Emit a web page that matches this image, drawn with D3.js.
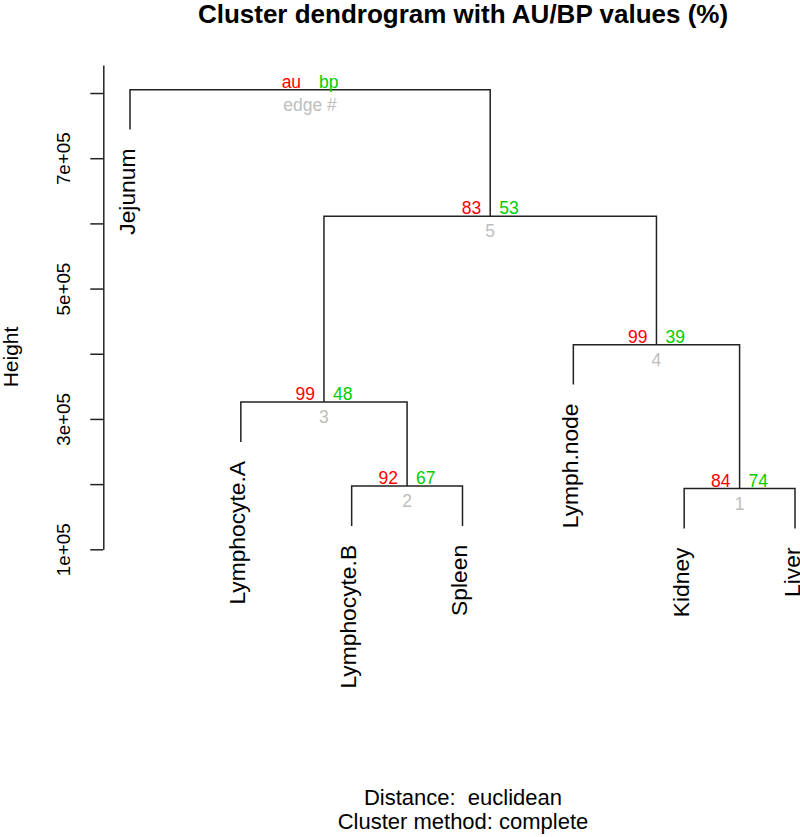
<!DOCTYPE html>
<html>
<head>
<meta charset="utf-8">
<script src="https://cdn.jsdelivr.net/npm/d3@7"></script>
<style>
  body { margin: 0; background: #fff; }
  svg text { font-family: "Liberation Sans", Arial, Helvetica, sans-serif; }
</style>
</head>
<body>
<div id="chart"></div>
<script>
// leaves in plotting order
var leafLabels = ["Jejunum", "Lymphocyte.A", "Lymphocyte.B", "Spleen", "Lymph.node", "Kidney", "Liver"];
// hclust style merges: negative = leaf (1-based), positive = earlier merge
var merges = [[-6, -7], [-3, -4], [-2, 2], [-5, 1], [3, 4], [-1, 5]];
var heights = [193100, 197100, 325900, 414000, 610800, 805200];
var auValues = [84, 92, 99, 99, 83];
var bpValues = [74, 67, 48, 39, 53];
var tickValues = [100000, 200000, 300000, 400000, 500000, 600000, 700000, 800000];
var labelledTicks = [100000, 300000, 500000, 700000];

var width = 800, height = 837;
var colAu = "#FF0000", colBp = "#00CD00", colEdge = "#BEBEBE", colLine = "#222";

var svg = d3.select("#chart")
    .append("svg")
    .attr("width", width)
    .attr("height", height);

var x = d3.scaleLinear().domain([1, 7]).range([130, 795]);
var y = d3.scaleLinear().domain([100000, 843000]).range([549.3, 65]);

// hang like plot.hclust (0.1 of the height range)
var hang = 0.1 * (d3.max(heights) - d3.min(heights));

// compute position of every merge
var nodes = [];
function pos(k) {
    if (k < 0) return { x: x(-k), y: y(heights[nodeOfLeaf(-k)] - hang) };
    return nodes[k - 1];
}
function nodeOfLeaf(i) {
    for (var m = 0; m < merges.length; m++) {
        if (merges[m][0] === -i || merges[m][1] === -i) return m;
    }
}
merges.forEach(function (m, i) {
    var a = pos(m[0]), b = pos(m[1]);
    nodes.push({ x: (a.x + b.x) / 2, y: y(heights[i]), a: a, b: b });
});

// dendrogram lines
var g = svg.append("g");
nodes.forEach(function (n) {
    g.append("path")
        .attr("d", "M" + n.a.x + "," + n.a.y + "V" + n.y + "H" + n.b.x + "V" + n.b.y)
        .attr("fill", "none")
        .attr("stroke", colLine)
        .attr("stroke-width", 1.5);
});

// leaf labels
leafLabels.forEach(function (lab, i) {
    var p = pos(-(i + 1));
    svg.append("text")
        .attr("transform", "translate(" + p.x + "," + (p.y + 19) + ") rotate(-90)")
        .attr("text-anchor", "end")
        .attr("dy", "0.2em")
        .style("font-size", "22.8px")
        .style("fill", "#000")
        .text(lab);
});

// au / bp / edge numbers
auValues.forEach(function (au, i) {
    var n = nodes[i];
    svg.append("text").attr("x", n.x - 9).attr("y", n.y - 2)
        .attr("text-anchor", "end").style("font-size", "17.5px").style("fill", colAu).text(au);
    svg.append("text").attr("x", n.x + 9).attr("y", n.y - 2)
        .attr("text-anchor", "start").style("font-size", "17.5px").style("fill", colBp).text(bpValues[i]);
    svg.append("text").attr("x", n.x).attr("y", n.y + 21)
        .attr("text-anchor", "middle").style("font-size", "17.5px").style("fill", colEdge).text(i + 1);
});

// legend at the root
var root = nodes[nodes.length - 1];
svg.append("text").attr("x", root.x - 9).attr("y", root.y - 2)
    .attr("text-anchor", "end").style("font-size", "17.5px").style("fill", colAu).text("au");
svg.append("text").attr("x", root.x + 9).attr("y", root.y - 2)
    .attr("text-anchor", "start").style("font-size", "17.5px").style("fill", colBp).text("bp");
svg.append("text").attr("x", root.x).attr("y", root.y + 21)
    .attr("text-anchor", "middle").style("font-size", "17.5px").style("fill", colEdge).text("edge #");

// y axis
var yAxis = d3.axisLeft(y)
    .tickValues(tickValues)
    .tickSizeInner(13)
    .tickSizeOuter(0)
    .tickFormat(function (d) {
        return labelledTicks.indexOf(d) >= 0 ? d3.format(".0e")(d).replace("e+", "e+0") : "";
    });

var ax = svg.append("g")
    .attr("transform", "translate(103.3,0)")
    .call(yAxis);
ax.attr("font-size", null).attr("font-family", null);
ax.selectAll("path, line").attr("stroke", colLine).attr("stroke-width", 1.5);
ax.selectAll(".tick text")
    .attr("x", null)
    .attr("y", 0)
    .attr("transform", "translate(-40,0) rotate(-90)")
    .attr("text-anchor", "middle")
    .attr("dy", "0.35em")
    .style("font-size", "18.8px")
    .style("fill", "#000");

// axis title
svg.append("text")
    .attr("transform", "translate(11,357) rotate(-90)")
    .attr("text-anchor", "middle")
    .attr("dy", "0.35em")
    .style("font-size", "21px")
    .text("Height");

// main title
svg.append("text")
    .attr("x", 463).attr("y", 23)
    .attr("text-anchor", "middle")
    .style("font-size", "26px")
    .style("font-weight", "bold")
    .text("Cluster dendrogram with AU/BP values (%)");

// sub title
svg.append("text")
    .attr("x", 463).attr("y", 805)
    .attr("text-anchor", "middle")
    .style("font-size", "22px")
    .style("white-space", "pre")
    .text("Distance:  euclidean");
svg.append("text")
    .attr("x", 463).attr("y", 829)
    .attr("text-anchor", "middle")
    .style("font-size", "22px")
    .text("Cluster method: complete");
</script>
</body>
</html>
